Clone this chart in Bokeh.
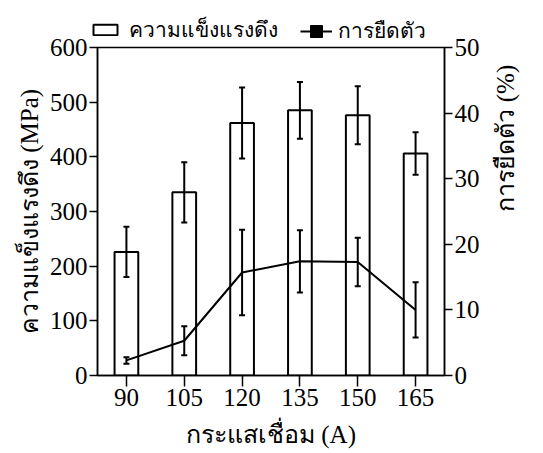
import math
from bokeh.plotting import figure
from bokeh.layouts import column
from bokeh.models import (ColumnDataSource, Range1d, LinearAxis, Whisker, TeeHead,
                          Legend, LegendItem, Label, FixedTicker)
from bokeh.embed import file_html
from bokeh.resources import INLINE

# ---- data ----
currents = ["90", "105", "120", "135", "150", "165"]
strength = [226, 335, 462, 485, 476, 406]
strength_err = [46, 55, 65, 52, 53, 39]
elong = [2.3, 5.3, 15.7, 17.4, 17.3, 10.0]
elong_err = [0.5, 2.2, 6.5, 4.75, 3.7, 4.2]
series_names = ["ความแข็งแรงดึง", "การยืดตัว"]
left_ticks = [0, 100, 200, 300, 400, 500, 600]
right_ticks = [0, 10, 20, 30, 40, 50]

FONT = "Liberation Serif"
TICK_SIZE = "25px"

src = ColumnDataSource(dict(
    x=currents, s=strength,
    s_lo=[a - b for a, b in zip(strength, strength_err)],
    s_hi=[a + b for a, b in zip(strength, strength_err)],
    e=elong,
    e_lo=[a - b for a, b in zip(elong, elong_err)],
    e_hi=[a + b for a, b in zip(elong, elong_err)],
))

W = 535
# ---- legend strip (own small figure so nothing is clipped) ----
top = figure(width=W, height=47, x_range=Range1d(0, 1), y_range=Range1d(0, 1),
             x_axis_location=None, y_axis_location=None,
             output_backend="svg", toolbar_location=None, margin=(0, 0, 0, -8),
             min_border=0, min_border_left=0, min_border_right=0,
             min_border_top=0, min_border_bottom=0)
top.grid.visible = False
top.outline_line_color = None
top.border_fill_alpha = 0
top.background_fill_alpha = 0
nan = float("nan")
lb = top.vbar(x=[nan], top=[nan], width=0.1, fill_color="white", line_color="black", line_width=2)
ll = top.line(x=[nan, nan], y=[nan, nan], line_color="black", line_width=2)
lm = top.scatter(x=[nan], y=[nan], marker="square", size=12, fill_color="black", line_color="black")

common = dict(orientation="horizontal", label_text_font=FONT, label_text_font_size="21px",
              label_text_color="black", border_line_color=None, background_fill_alpha=0,
              padding=0, margin=0, spacing=0)
leg1 = Legend(items=[LegendItem(label=series_names[0], renderers=[lb])],
              location=(1, 1), glyph_width=30, glyph_height=13, label_standoff=9, **common)
leg2 = Legend(items=[LegendItem(label=series_names[1], renderers=[ll, lm])],
              location=(211, 0), glyph_width=32, glyph_height=30, label_standoff=6, **common)
top.add_layout(leg1, "center")
top.add_layout(leg2, "center")

# ---- main chart ----
p = figure(x_range=currents, y_range=Range1d(0, 600), width=W, height=414,
           output_backend="svg", toolbar_location=None, margin=(-10, 0, 0, 0),
           min_border_left=97, min_border_right=77, min_border_top=10, min_border_bottom=76)
p.extra_y_ranges = {"pct": Range1d(0, 50)}
p.xgrid.grid_line_color = None
p.ygrid.grid_line_color = None
p.outline_line_color = "black"
p.outline_line_width = 1.5
p.background_fill_color = "white"
p.border_fill_alpha = 0

bars = p.vbar(x="x", top="s", width=0.41, source=src, fill_color="white",
              line_color="black", line_width=2)

def whisker(lo, hi, **kw):
    return Whisker(base="x", lower=lo, upper=hi, source=src, level="overlay",
                   line_color="black", line_width=2,
                   lower_head=TeeHead(size=6, line_width=2, line_color="black"),
                   upper_head=TeeHead(size=6, line_width=2, line_color="black"), **kw)

p.add_layout(whisker("s_lo", "s_hi"))
p.add_layout(whisker("e_lo", "e_hi", y_range_name="pct"))
ln = p.line(x="x", y="e", source=src, y_range_name="pct", line_color="black", line_width=2)

def style_axis(ax):
    ax.axis_line_color = "black"
    ax.axis_line_width = 1.5
    ax.major_tick_line_color = "black"
    ax.major_tick_line_width = 1.5
    ax.major_tick_out = 8
    ax.major_tick_in = 0
    ax.minor_tick_line_color = None
    ax.major_label_text_font = FONT
    ax.major_label_text_font_size = TICK_SIZE
    ax.major_label_text_color = "black"
    ax.axis_label_text_font = FONT
    ax.axis_label_text_font_style = "normal"
    ax.axis_label_text_font_size = "25px"
    ax.axis_label_text_color = "black"

style_axis(p.xaxis[0])
p.xaxis[0].axis_label = "กระแสเชื่อม (A)"
p.xaxis[0].major_tick_out = 11
p.xaxis[0].major_label_standoff = 2
p.xaxis[0].axis_label_standoff = 12

style_axis(p.yaxis[0])
p.yaxis[0].ticker = FixedTicker(ticks=left_ticks)
p.yaxis[0].axis_label = "ความแข็งแรงดึง (MPa)"
p.yaxis[0].major_label_standoff = 2
p.yaxis[0].axis_label_standoff = 4

rax = LinearAxis(y_range_name="pct", ticker=FixedTicker(ticks=right_ticks))
style_axis(rax)
rax.major_label_standoff = 2
rax.axis_label_standoff = 23
if "axis_label_orientation" in LinearAxis.properties():
    rax.axis_label = "การยืดตัว (%)"
    rax.axis_label_orientation = math.pi / 2
else:
    p.add_layout(Label(x=423, y=25, x_units="screen", y_units="data", y_range_name="pct",
                       text="การยืดตัว (%)", angle=math.pi / 2, text_align="center",
                       text_baseline="middle", text_font=FONT, text_font_size="25px",
                       text_color="black"))
p.add_layout(rax, "right")

layout = column(top, p, spacing=0)
open("out.html", "w").write(file_html(layout, INLINE))
